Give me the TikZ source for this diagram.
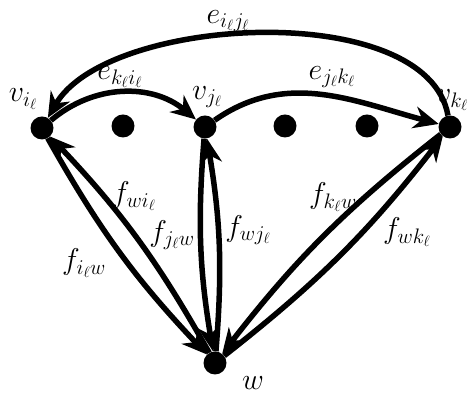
\RequirePackage{fix-cm}
\documentclass[tikz,border=0pt]{standalone}
\usetikzlibrary{arrows.meta}
\begin{document}
\begin{tikzpicture}[x=1pt,y=1pt,
  every node/.style={font=\fontsize{30}{32}\selectfont},
  vert/.style={circle,fill=black,minimum size=23pt,inner sep=0pt},
  edge/.style={line width=5.5pt,-{Stealth[length=25pt,width=22pt,inset=8pt]}},
  lbl/.style={inner sep=0pt}]
\useasboundingbox (0,0) rectangle (467,406);
\node[vert] (vi) at (42,278) {};
\node[vert] (d1) at (123,280) {};
\node[vert] (vj) at (205,279) {};
\node[vert] (d2) at (285,280) {};
\node[vert] (d3) at (367,280) {};
\node[vert] (vk) at (450,279) {};
\node[vert] (w) at (215,43) {};

\draw[edge] (vk) to[out=100,in=60,looseness=0.76] (vi);
\draw[edge] (vi) to[bend left=40] (vj);
\draw[edge] (vj) to[out=35,in=165] (vk);

\draw[edge] (vi) to[bend right=7] (w);
\draw[edge] (w) to[bend right=7] (vi);
\draw[edge] (vj) to[bend right=7] (w);
\draw[edge] (w) to[bend right=7] (vj);
\draw[edge] (vk) to[bend right=7] (w);
\draw[edge] (w) to[bend right=7] (vk);

\node[lbl] (lvi) at (23,307) {$v_{i_\ell}$};
\node[lbl] (lvj) at (207,309) {$v_{j_\ell}$};
\node[lbl,anchor=west] (lvk) at (436,306) {$v_{k_\ell}$};
\node[lbl] (lw) at (253,23) {$w$};
\node[lbl] (eij) at (228,385) {$e_{i_\ell j_\ell}$};
\node[lbl] (eki) at (120,329) {$e_{k_\ell i_\ell}$};
\node[lbl] (ejk) at (332,329) {$e_{j_\ell k_\ell}$};
\node[lbl] (fwi) at (134,210) {$f_{wi_\ell}$};
\node[lbl] (fjw) at (172,171) {$f_{j_\ell w}$};
\node[lbl] (fwj) at (248,176) {$f_{wj_\ell}$};
\node[lbl] (fiw) at (84,143) {$f_{i_\ell w}$};
\node[lbl] (fkw) at (333,209) {$f_{k_\ell w}$};
\node[lbl] (fwk) at (407,174) {$f_{wk_\ell}$};
\end{tikzpicture}
\end{document}
